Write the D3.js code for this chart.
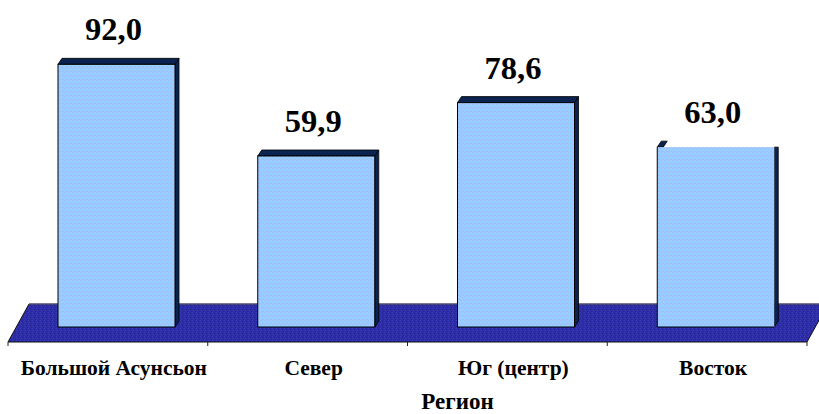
<!DOCTYPE html>
<html><head><meta charset="utf-8">
<script src="https://cdn.jsdelivr.net/npm/d3@7/dist/d3.min.js"></script>
<style>body{margin:0;background:#fff;}svg{display:block;}</style>
</head><body>
<svg id="c" width="819" height="414"></svg>
<script>
const categories = ["Большой Асунсьон", "Север", "Юг (центр)", "Восток"];
const values = [92.0, 59.9, 78.6, 63.0];
const valueLabels = ["92,0", "59,9", "78,6", "63,0"];
const axisTitle = "Регион";

const svg = d3.select("#c");
const x = d3.scaleBand().domain(categories).range([8, 807]);
const y = d3.scaleLinear().domain([0, 100]).range([327, 41.5]);
const dx = 4, dy = -6;           // bar depth
const fdx = 21, fdy = -38;       // floor depth
const barOff = 50, barW = 117;
const serif = (sel, size) => sel.style("font-family", '"Liberation Serif"').style("font-weight", "bold").style("font-size", size + "px").attr("fill", "#000");

const defs = svg.append("defs");
const pb = defs.append("pattern").attr("id","barPat").attr("width",4).attr("height",4).attr("patternUnits","userSpaceOnUse");
pb.append("rect").attr("width",4).attr("height",4).attr("fill","#99ccff");
[[0,0,"#a3b9ff"],[2,1,"#8fd0ff"],[1,2,"#a6c0ff"],[3,3,"#90c4ff"],[2,3,"#a0bcf8"]].forEach(([a,b,c])=>pb.append("rect").attr("x",a).attr("y",b).attr("width",1).attr("height",1).attr("fill",c));
const pf = defs.append("pattern").attr("id","floorPat").attr("width",4).attr("height",4).attr("patternUnits","userSpaceOnUse");
pf.append("rect").attr("width",4).attr("height",4).attr("fill","#2e2ea6");
[[0,0,"#3a3ac4"],[2,1,"#22228a"],[1,2,"#3535b8"],[3,3,"#262696"],[1,0,"#2a2a9c"]].forEach(([a,b,c])=>pf.append("rect").attr("x",a).attr("y",b).attr("width",1).attr("height",1).attr("fill",c));

// floor
const y0 = y(0) + 15;
const fx0 = x.range()[0], fx1 = x.range()[1];
svg.append("path")
  .attr("d", `M${fx0},${y0} L${fx0+fdx},${y0+fdy} L${fx1+fdx},${y0+fdy} L${fx1},${y0} Z`)
  .attr("fill","url(#floorPat)").attr("stroke","#111").attr("stroke-width",1);
svg.append("line").attr("x1",fx0+fdx).attr("x2",fx1+fdx).attr("y1",y0+fdy).attr("y2",y0+fdy).attr("stroke","#6a6a9a").attr("stroke-width",1);

// ticks
const tickXs = categories.map(c => x(c)).concat([fx1]);
svg.selectAll("line.tick").data(tickXs).enter().append("line")
  .attr("x1", d=>d).attr("x2", d=>d).attr("y1", y0).attr("y2", y0+4)
  .attr("stroke","#222").attr("stroke-width",1);

// bars
const g = svg.append("g");
categories.forEach((c, i) => {
  const xl = x(c) + barOff, xr = xl + barW;
  const yt = y(values[i]), yb = y(0);
  const last = i === categories.length - 1;
  g.append("path")
    .attr("d", `M${xr},${yt} L${xr+dx},${last ? yt : yt+dy} L${xr+dx},${yb+dy} L${xr},${yb} Z`)
    .attr("fill","#0b2350").attr("stroke","#000").attr("stroke-width",0.8);
  const topW = last ? 6 : barW;
  g.append("path")
    .attr("d", `M${xl},${yt} L${xl+dx},${yt+dy} L${xl+topW+dx},${yt+dy} L${xl+topW},${yt} Z`)
    .attr("fill","#0b2350").attr("stroke","#000").attr("stroke-width",0.8);
  g.append("rect").attr("x", xl).attr("y", yt).attr("width", barW).attr("height", yb - yt)
    .attr("fill","url(#barPat)").attr("stroke", last ? "none" : "#000").attr("stroke-width",1);
  if (last) {
    g.append("path").attr("d", `M${xl},${yt} L${xl},${yb} L${xr},${yb}`).attr("fill","none").attr("stroke","#000").attr("stroke-width",1);
  }
  serif(svg.append("text").attr("x", xl + barW/2 - 3).attr("y", yt - 24).attr("text-anchor","middle"), 32.5).text(valueLabels[i]);
  serif(svg.append("text").attr("x", x(c) + x.bandwidth()/2 + 6).attr("y", 375).attr("text-anchor","middle"), 21.5).text(c);
});

serif(svg.append("text").attr("x", (fx0+fx1)/2 + 50).attr("y", 409).attr("text-anchor","middle"), 23).text(axisTitle);
</script>
</body></html>
